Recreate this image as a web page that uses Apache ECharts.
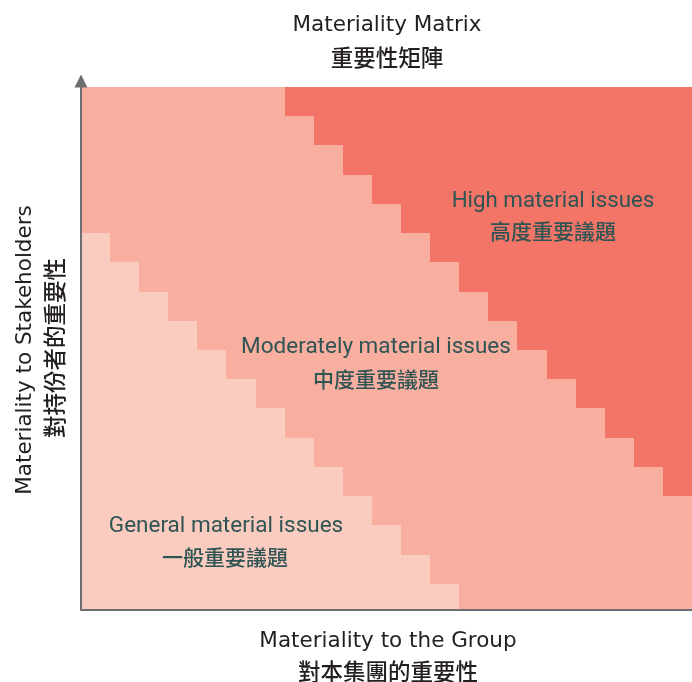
<!DOCTYPE html>
<html>
<head>
<meta charset="utf-8">
<script src="https://cdn.jsdelivr.net/npm/echarts@6/dist/echarts.min.js"></script>
<style>
html, body { margin: 0; padding: 0; background: #ffffff; }
#chart { width: 692px; height: 682px; }
</style>
</head>
<body>
<div id="chart"></div>
<script>
// ---- data (grid cells: columns from the left, row boundaries counted upward) ----
const columns    = [0, 1, 2, 3, 4, 5, 6, 7, 8, 9, 10, 11, 12, 13, 14, 15, 16, 17, 18, 19, 20];
const generalTop = [13, 12, 11, 10, 9, 8, 7, 6, 5, 4, 3, 2, 1, null, null, null, null, null, null, null, null];
const highBottom = [null, null, null, null, null, null, null, 17, 16, 15, 14, 13, 12, 11, 10, 9, 8, 7, 6, 5, 4];
const xRange = [0, 21];
const yRange = [0.12, 18];

const titleLines   = ['Materiality Matrix', '重要性矩陣'];
const xAxisLines   = ['Materiality to the Group', '對本集團的重要性'];
const yAxisLines   = ['Materiality to Stakeholders', '對持份者的重要性'];
const highLabel     = ['High material issues', '高度重要議題'];
const moderateLabel = ['Moderately material issues', '中度重要議題'];
const generalLabel  = ['General material issues', '一般重要議題'];

// ---- styles ----
const COLORS = { general: '#FACCBF', moderate: '#F8AFA0', high: '#F37567' };
const AXIS_COLOR = '#6d6e71';
const TITLE_COLOR = '#231f20';
const LABEL_COLOR = '#2f5454';
const LATIN_FONT = '"DejaVu Sans", "Liberation Sans", sans-serif';
const LABEL_FONT = 'Roboto, "Liberation Sans", sans-serif';
const CJK_FONT = '"Noto Sans CJK TC", "Noto Sans CJK SC", sans-serif';

// ---- build series data from arrays ----
const generalData = columns.filter(c => generalTop[c] != null).map(c => [c, yRange[0], generalTop[c]]);
const moderateData = columns.map(c => [c, generalTop[c] != null ? generalTop[c] : yRange[0], highBottom[c] != null ? highBottom[c] : yRange[1]]);
const highData = columns.filter(c => highBottom[c] != null).map(c => [c, highBottom[c], yRange[1]]);

function cellRenderer(color) {
  return function (params, api) {
    const c = api.value(0), lo = api.value(1), hi = api.value(2);
    const p1 = api.coord([c, hi]);
    const p2 = api.coord([c + 1, lo]);
    const x = Math.round(p1[0]), y = Math.round(p1[1]);
    const w = Math.round(p2[0]) - x, h = Math.round(p2[1]) - y;
    return { type: 'rect', shape: { x: x, y: y, width: w, height: h }, style: { fill: color } };
  };
}

function regionSeries(name, data, color) {
  return {
    name: name,
    type: 'custom',
    renderItem: cellRenderer(color),
    encode: { x: 0, y: [1, 2] },
    data: data,
    silent: true,
    z: 2
  };
}

function txt(x, y, text, size, font, color, rotation, weight) {
  return {
    type: 'text', x: x, y: y, rotation: rotation || 0, silent: true, z: 100,
    style: { text: text, fill: color, font: (weight ? weight + ' ' : '') + size + 'px ' + font, align: 'center', verticalAlign: 'middle' }
  };
}

const chart = echarts.init(document.getElementById('chart'), null, { renderer: 'canvas' });
chart.setOption({
  animation: false,
  backgroundColor: '#ffffff',
  grid: { left: 81, top: 87, width: 612.5, height: 522.5, containLabel: false },
  xAxis: {
    type: 'value', min: xRange[0], max: xRange[1], z: 10,
    axisLine: { show: true, lineStyle: { color: AXIS_COLOR, width: 2 } },
    axisTick: { show: false }, axisLabel: { show: false }, splitLine: { show: false }
  },
  yAxis: {
    type: 'value', min: yRange[0], max: yRange[1], z: 10,
    axisLine: {
      show: true, lineStyle: { color: AXIS_COLOR, width: 2 },
      symbol: ['none', 'triangle'], symbolSize: [13, 13], symbolOffset: [0, 6]
    },
    axisTick: { show: false }, axisLabel: { show: false }, splitLine: { show: false }
  },
  series: [
    regionSeries('Moderately material issues', moderateData, COLORS.moderate),
    regionSeries('General material issues', generalData, COLORS.general),
    regionSeries('High material issues', highData, COLORS.high)
  ],
  graphic: { elements: [
    txt(387, 25, titleLines[0], 21.5, LATIN_FONT, TITLE_COLOR),
    txt(387, 57, titleLines[1], 22.5, CJK_FONT, TITLE_COLOR, 0, 500),
    txt(388, 641, xAxisLines[0], 21.5, LATIN_FONT, TITLE_COLOR),
    txt(388, 671, xAxisLines[1], 22.5, CJK_FONT, TITLE_COLOR, 0, 500),
    txt(25.5, 350, yAxisLines[0], 21.5, LATIN_FONT, TITLE_COLOR, Math.PI / 2),
    txt(54, 348, yAxisLines[1], 22.5, CJK_FONT, TITLE_COLOR, Math.PI / 2, 500),
    txt(553, 201, highLabel[0], 22.3, LABEL_FONT, LABEL_COLOR),
    txt(553, 231, highLabel[1], 21, CJK_FONT, LABEL_COLOR, 0, 500),
    txt(376, 347, moderateLabel[0], 22.5, LABEL_FONT, LABEL_COLOR),
    txt(376, 379.5, moderateLabel[1], 21, CJK_FONT, LABEL_COLOR, 0, 500),
    txt(226, 526.5, generalLabel[0], 22.5, LABEL_FONT, LABEL_COLOR),
    txt(225, 557.5, generalLabel[1], 21, CJK_FONT, LABEL_COLOR, 0, 500)
  ] }
});
</script>
</body>
</html>
